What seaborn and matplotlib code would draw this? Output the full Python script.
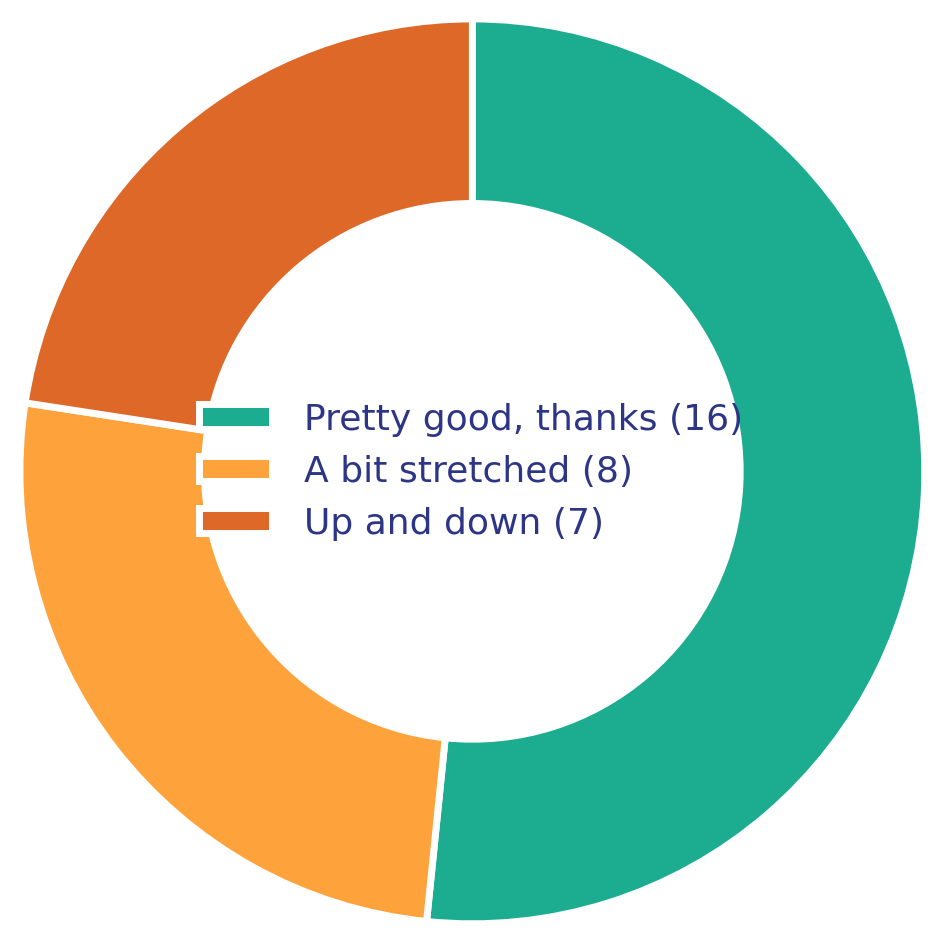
import matplotlib
matplotlib.use("Agg")
import matplotlib.pyplot as plt
import seaborn as sns

sns.set_theme(style="white")
plt.rcParams['font.family'] = ['DejaVu Sans']

labels = ["Pretty good, thanks", "A bit stretched", "Up and down"]
counts = [16, 8, 7]
colors = ["#1cac8f", "#fea33c", "#dd6828"]
text_color = "#2d3586"

fig = plt.figure(figsize=(9.37, 9.37), dpi=100)
ax = fig.add_axes([0, 0, 1, 1])

wedges, _ = ax.pie(
    counts,
    colors=colors,
    startangle=90,
    counterclock=False,
    wedgeprops=dict(width=0.408, edgecolor="white", linewidth=5),
)
ax.set_xlim(-1.044, 1.027)
ax.set_ylim(-1.027, 1.044)
ax.set_aspect("equal")

leg = ax.legend(
    wedges,
    [f"{l} ({c})" for l, c in zip(labels, counts)],
    loc="center",
    bbox_to_anchor=(0.503, 0.496),
    frameon=False,
    fontsize=26,
    handlelength=2.0,
    handletextpad=0.9,
    labelspacing=0.5,
)
for t in leg.get_texts():
    t.set_color(text_color)

fig.savefig("out.png", dpi=100)
